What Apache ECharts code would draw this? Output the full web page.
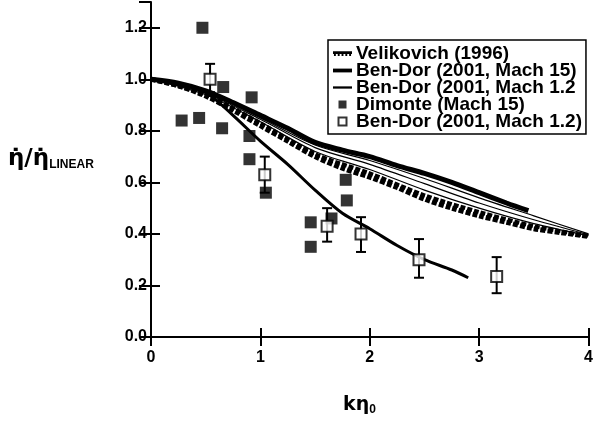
<!DOCTYPE html>
<html><head><meta charset="utf-8">
<script src="https://cdn.jsdelivr.net/npm/echarts@6/dist/echarts.min.js"></script>
<style>html,body{margin:0;padding:0;background:#fff}#c{width:596px;height:434px}</style>
</head><body><div id="c"></div>
<script>
// ---- data ----
const xTickValues = [0, 1, 2, 3, 4];
const yTickValues = [0.0, 0.2, 0.4, 0.6, 0.8, 1.0, 1.2];

const velikovichLow = [[0,1.0],[0.25,0.975],[0.5,0.935],[0.75,0.88],[1.0,0.82],[1.25,0.76],[1.5,0.70],[1.75,0.655],[2.0,0.62],[2.25,0.58],[2.5,0.535],[2.75,0.50],[3.0,0.47],[3.25,0.445],[3.5,0.42],[3.75,0.405],[4.0,0.39]];
const velikovichHigh = [[0,1.0],[0.5,0.94],[1.0,0.83],[1.5,0.71],[2.0,0.635],[2.5,0.55],[3.0,0.485],[3.5,0.43],[4.0,0.392]];
const thinA = [[0,1.0],[0.5,0.95],[1.0,0.85],[1.5,0.745],[2.0,0.685],[2.5,0.615],[3.0,0.54],[3.5,0.47],[4.0,0.40]];
const thinB = [[0,1.0],[0.5,0.945],[1.0,0.845],[1.5,0.735],[2.0,0.67],[2.5,0.595],[3.0,0.52],[3.5,0.455],[4.0,0.397]];
const thinC = [[0,1.0],[0.5,0.94],[1.0,0.835],[1.5,0.72],[2.0,0.65],[2.5,0.57],[3.0,0.50],[3.5,0.44],[4.0,0.393]];
const benDorMach15 = [[0,1.0],[0.25,0.985],[0.5,0.955],[0.75,0.91],[1.0,0.86],[1.25,0.81],[1.5,0.755],[1.75,0.725],[2.0,0.70],[2.25,0.665],[2.5,0.635],[2.75,0.60],[3.0,0.56],[3.25,0.52],[3.45,0.49]];
const benDorMach12Curve = [[0,1.0],[0.25,0.985],[0.5,0.95],[0.75,0.86],[1.0,0.76],[1.25,0.67],[1.5,0.57],[1.75,0.48],[2.0,0.42],[2.25,0.355],[2.5,0.30],[2.75,0.26],[2.9,0.23]];
const dimonte = [[0.47,1.20],[0.28,0.84],[0.44,0.85],[0.66,0.97],[0.65,0.81],[0.92,0.93],[0.90,0.78],[0.90,0.69],[1.05,0.56],[1.46,0.445],[1.46,0.35],[1.65,0.46],[1.78,0.61],[1.79,0.53]];
// [x, y, low, high]
const benDorMach12Points = [[0.54,1.00,0.95,1.06],[1.04,0.63,0.56,0.70],[1.61,0.43,0.37,0.50],[1.92,0.40,0.33,0.465],[2.45,0.30,0.23,0.38],[3.16,0.235,0.17,0.31]];

const legendNames = ['Velikovich (1996)','Ben-Dor (2001, Mach 15)','Ben-Dor (2001, Mach 1.2','Dimonte (Mach 15)','Ben-Dor (2001, Mach 1.2)'];

const chart = echarts.init(document.getElementById('c'), null, {renderer:'canvas'});
const FONT = 'Liberation Sans, Arial, Helvetica, sans-serif';
const square = 'path://M0,0L10,0L10,10L0,10Z';
const dashIcon = 'path://M0,0H20V3H19V5H17V3H15V5H13V3H11V5H9V3H7V5H5V3H3V5H1V3H0Z';
const thickIcon = 'path://M0,0H20V4H0Z';
const thinIcon = 'path://M0,0H20V2.4H0Z';

function lineSeries(name, data, width, type, z){
  return {name, type:'line', data, symbol:'none', smooth:0.3, z:z||2,
    lineStyle:{color:'#000', width, type:type||'solid', cap:'butt'}, itemStyle:{color:'#000'}, silent:true};
}

chart.setOption({
  animation:false,
  backgroundColor:'#fff',
  grid:{left:151, right:4, top:2, bottom:97},
  xAxis:[
    {type:'value', min:0, max:4, interval:1, position:'bottom',
     axisLine:{show:true, lineStyle:{color:'#000', width:2}},
     axisTick:{inside:true, length:9, lineStyle:{color:'#000', width:2}},
     axisLabel:{margin:13, color:'#000', fontSize:16, fontWeight:'bold', fontFamily:FONT, formatter:v=>String(v)},
     splitLine:{show:false}},
    {type:'value', min:0, max:4, interval:1, position:'top',
     axisLine:{show:false}, axisTick:{show:true, inside:true, length:9, lineStyle:{color:'#000', width:2}},
     axisLabel:{show:false}, splitLine:{show:false}}
  ],
  yAxis:[
    {type:'value', min:0, max:1.3, interval:0.2, position:'left',
     axisLine:{show:true, lineStyle:{color:'#000', width:2}},
     axisTick:{inside:true, length:9, lineStyle:{color:'#000', width:2}},
     axisLabel:{margin:4, color:'#000', fontSize:16, fontWeight:'bold', fontFamily:FONT, showMaxLabel:false,
       formatter:v=>v.toFixed(1)},
     splitLine:{show:false}},
    {type:'value', min:0, max:1.3, interval:0.2, position:'right',
     axisLine:{show:false}, axisTick:{show:true, inside:true, length:12, lineStyle:{color:'#000', width:2}},
     axisLabel:{show:false}, splitLine:{show:false}}
  ],
  legend:{
    orient:'vertical', left:328, top:40, padding:[4,4,3,5],
    borderColor:'#000', borderWidth:1.5, backgroundColor:'#fff',
    itemGap:-2, itemWidth:19, itemHeight:8, selectedMode:false,
    textStyle:{fontFamily:FONT, fontSize:19, fontWeight:'bold', color:'#000', padding:[0,0,0,-1]},
    data:[
      {name:legendNames[0], icon:dashIcon},
      {name:legendNames[1], icon:thickIcon},
      {name:legendNames[2], icon:thinIcon},
      {name:legendNames[3], icon:square},
      {name:legendNames[4], icon:square, itemStyle:{color:'#fff', borderColor:'#000', borderWidth:2}}
    ]
  },
  graphic:[
    {type:'text', left:8, top:148, style:{
      text:'{a|η̇/η̇}{b|LINEAR}',
      rich:{a:{fontSize:23, fontWeight:'bold', fontFamily:'DejaVu Sans', fill:'#000'}, b:{fontSize:12, fontWeight:'bold', fontFamily:FONT, fill:'#000', padding:[10,0,0,0]}}
    }},
    {type:'text', left:343, top:396, style:{
      text:'{a|kη}{b|0}',
      rich:{a:{fontSize:19, fontWeight:'bold', fontFamily:'DejaVu Sans', fill:'#000'}, b:{fontSize:12, fontFamily:FONT, fontWeight:'bold', fill:'#000', padding:[9,0,0,0]}}
    }}
  ],
  series:[
    lineSeries(legendNames[0], velikovichLow, 5, [5,2], 2),
    lineSeries('Velikovich (1996) b', velikovichHigh, 4, [5,2], 2),
    lineSeries('thin a', thinA, 1.2, 'solid', 3),
    lineSeries('thin b', thinB, 1.2, 'solid', 3),
    lineSeries('thin c', thinC, 1.2, 'solid', 3),
    lineSeries(legendNames[1], benDorMach15, 5, 'solid', 4),
    lineSeries(legendNames[2], benDorMach12Curve, 3, 'solid', 4),
    {name:legendNames[3], type:'scatter', data:dimonte, symbol:'rect', symbolSize:12, z:6,
     itemStyle:{color:'#000'}, silent:true},
    {name:'errbars', type:'custom', z:6, silent:true, data:benDorMach12Points, encode:{x:0, y:[1,2,3]},
     renderItem:(params, api)=>{
       const x = api.value(0);
       const pl = api.coord([x, api.value(2)]);
       const ph = api.coord([x, api.value(3)]);
       const w = 5;
       const st = {stroke:'#000', lineWidth:2};
       return {type:'group', children:[
         {type:'line', shape:{x1:pl[0], y1:pl[1], x2:ph[0], y2:ph[1]}, style:st},
         {type:'line', shape:{x1:pl[0]-w, y1:pl[1], x2:pl[0]+w, y2:pl[1]}, style:st},
         {type:'line', shape:{x1:ph[0]-w, y1:ph[1], x2:ph[0]+w, y2:ph[1]}, style:st}
       ]};
     }},
    {name:legendNames[4], type:'scatter', data:benDorMach12Points.map(p=>[p[0],p[1]]), symbol:'rect', symbolSize:11, z:7,
     itemStyle:{color:'#fff', borderColor:'#000', borderWidth:2}, silent:true}
  ]
});
</script>
</body></html>
